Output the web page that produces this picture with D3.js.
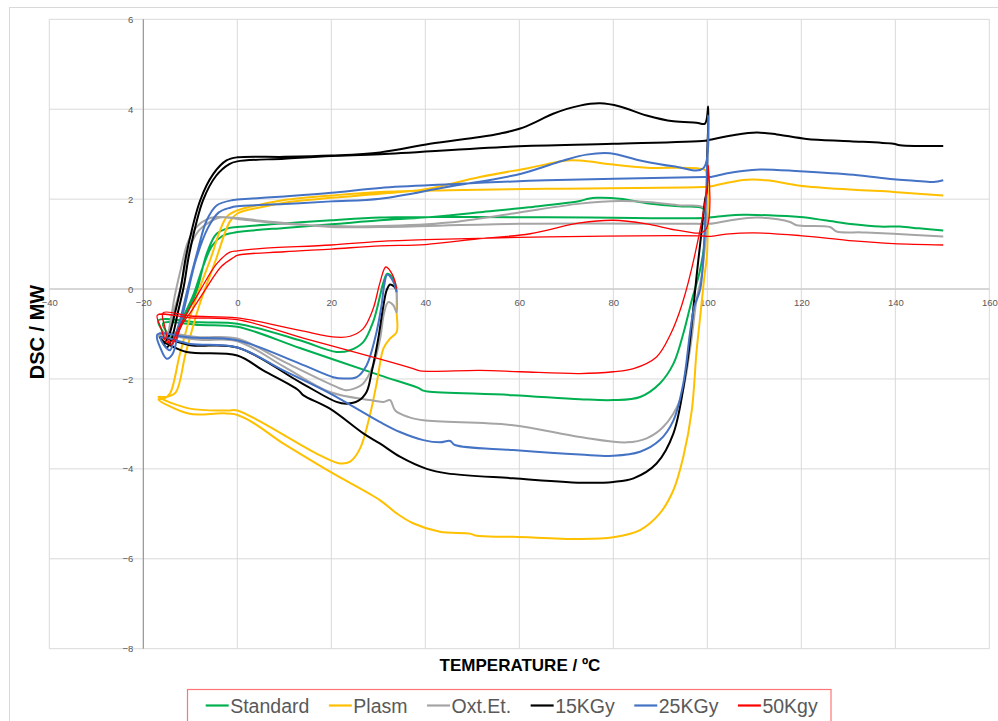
<!DOCTYPE html>
<html>
<head>
<meta charset="utf-8">
<script src="https://cdn.jsdelivr.net/npm/d3@7"></script>
<style>
  body { margin: 0; background: #fff; }
  svg { display: block; }
  text { font-family: "Liberation Sans", Arial, sans-serif; }
</style>
</head>
<body>
<svg id="chart" width="998" height="721"></svg>
<script>
// series labels, in drawing order
const seriesNames = ['Standard', 'Plasm', 'Oxt.Et.', '15KGy', '25KGy', '50Kgy'];
const seriesColors = ['#00b050', '#ffc000', '#a5a5a5', '#000000', '#4472c4', '#ff0000'];
const seriesWidths = [2, 2, 2, 2, 2, 1.3];

const xTicks = [-40, -20, 0, 20, 40, 60, 80, 100, 120, 140, 160];
const yTicks = [-8, -6, -4, -2, 0, 2, 4, 6];

// [temperature ºC, DSC mW] - cooling 1, heating 1, cooling 2, heating 2
const standardPts = [
  [33.9, 0.01], [33.0, 0.26], [31.9, 0.34], [31.0, 0.12], [30.4, -0.14], [28.9, -0.73], [26.8, -1.18],
  [24.0, -1.36], [21.1, -1.40], [13.3, -1.14], [0, -0.77], [-8, -0.74], [-16.8, -0.70],
  [-15.8, -0.95], [-14.5, -1.12], [-13.3, -1.02], [-11.5, -0.62], [-9.3, -0.12], [-7.3, 0.50], [-5.3, 0.97],
  [-3.2, 1.18], [-1, 1.25], [0, 1.27], [10, 1.36], [20, 1.44], [30.4, 1.53], [40, 1.59], [51.6, 1.71],
  [62, 1.82], [72.9, 1.96], [74.7, 2.01], [76.5, 2.03], [81.4, 2.01], [87.1, 1.91], [94, 1.84], [99.1, 1.79],
  [99.8, 1.55], [99.4, 1.0], [98.3, 0.35], [96.7, -0.25], [94.9, -0.99], [92.8, -1.66], [89.9, -2.10],
  [85.7, -2.40], [80, -2.47], [72.9, -2.45], [58.7, -2.36], [40.5, -2.28], [39.6, -2.26], [38.5, -2.20],
  [30.4, -1.92], [13.3, -1.31], [0, -0.84], [-8, -0.80], [-15.8, -0.76],
  [-15.0, -0.96], [-13.9, -1.08], [-12.8, -0.98], [-11.3, -0.66], [-10.1, -0.40], [-8.6, -0.03], [-6.5, 0.79],
  [-4.4, 1.23], [-1.6, 1.36], [0, 1.38], [10, 1.46], [20, 1.53], [30.4, 1.59], [50, 1.60], [75, 1.59],
  [99.5, 1.58], [100.5, 1.59], [104, 1.63], [107.7, 1.65], [113, 1.64], [119.7, 1.60], [125, 1.53],
  [131.1, 1.44], [136.7, 1.39], [141, 1.39], [145, 1.35], [150.2, 1.30]
];

const plasmPts = [
  [33.9, -0.03], [33.9, -0.5], [33.9, -0.96], [32.5, -1.10], [31.1, -1.32], [29.7, -2.07], [28.2, -2.81],
  [26.1, -3.55], [24, -3.84], [21.9, -3.88], [17.6, -3.70], [0, -2.70], [-2, -2.70], [-10.1, -2.66], [-16.8, -2.40],
  [-15.0, -2.40], [-13.1, -2.30], [-11.0, -1.44], [-8.2, -0.40], [-4.6, 0.64], [-1.6, 1.50], [0, 1.68],
  [5, 1.82], [10, 1.92], [20, 2.03], [30.4, 2.12], [40, 2.22], [51.6, 2.49], [62.3, 2.70], [70.1, 2.86],
  [72.9, 2.86], [80, 2.77], [87.1, 2.70], [99.5, 2.65],
  [99.9, 2.55], [100.1, 1.45], [99.9, 0.71], [99.4, 0.3], [98.9, -0.2], [98.3, -0.8], [97.7, -1.4],
  [96.7, -2.70], [94.9, -3.73], [92.8, -4.47], [89.9, -4.99], [85.7, -5.36], [80, -5.52], [72.9, -5.56],
  [58.7, -5.51], [50.9, -5.49], [49.5, -5.44], [43.1, -5.40], [37.4, -5.21], [33.9, -4.99], [30.4, -4.70],
  [20, -4.08], [10, -3.45], [0, -2.80], [-10.4, -2.77], [-16.8, -2.45],
  [-15.6, -2.44], [-14.3, -2.32], [-12.2, -1.44], [-9.4, -0.40], [-5.8, 0.64], [-2.3, 1.60], [0, 1.75],
  [5, 1.88], [10, 1.98], [20, 2.08], [30.4, 2.16], [45, 2.20], [65.8, 2.23], [99.1, 2.27], [100.5, 2.28],
  [104, 2.36], [108.4, 2.43], [112.6, 2.42], [119.7, 2.30], [131.1, 2.21], [139.6, 2.16], [150.2, 2.08]
];

const oxtPts = [
  [33.9, -0.03], [33.9, -0.52], [33.2, -0.36], [32.1, -0.29], [31.2, -0.55], [30.4, -1.10], [28.9, -1.70],
  [26.8, -2.10], [24.7, -2.22], [23, -2.25], [20.5, -2.15], [10, -1.62], [0, -1.10], [-8, -1.07], [-16.5, -0.98],
  [-15.7, -1.10], [-14.7, -1.02], [-13.5, -0.50], [-12.2, -0.03], [-10.1, 0.93], [-8.2, 1.30], [-6.5, 1.45],
  [-3.7, 1.59], [0, 1.56], [5, 1.50], [10, 1.45], [20, 1.40], [30.4, 1.40], [45, 1.48], [58.7, 1.68],
  [72.9, 1.90], [81.4, 1.96], [88, 1.93], [94.2, 1.86], [99.1, 1.82],
  [99.9, 1.55], [99.5, 0.95], [98.8, 0.30], [97.7, -0.25], [96.3, -1.36], [94.2, -2.47], [90.6, -3.07],
  [87.1, -3.32], [82.9, -3.41], [72.9, -3.29], [58.7, -3.03], [39.6, -2.92], [36.5, -2.85], [33.6, -2.70],
  [32.5, -2.47], [31.1, -2.51], [28.2, -2.47], [19.7, -2.29], [10, -1.73], [0, -1.16], [-8, -1.13], [-16.8, -1.02],
  [-16.0, -1.12], [-15.0, -1.06], [-14.2, -0.70], [-13.3, -0.15], [-12.0, 0.45], [-10.5, 1.05], [-8.5, 1.40],
  [-6.5, 1.55], [-4.5, 1.60], [0, 1.58], [5, 1.52], [10, 1.47], [20, 1.38], [30.4, 1.38], [60.2, 1.45],
  [97.7, 1.45], [100.5, 1.45], [105, 1.53], [110.5, 1.59], [115, 1.55], [117.6, 1.49], [119, 1.42],
  [126.1, 1.38], [127.5, 1.28], [133, 1.26], [139.6, 1.23], [150.2, 1.17]
];

const kgy15Pts = [
  [33.9, -0.03], [33.3, 0.06], [32.5, 0.10], [31.8, -0.02], [31.1, -0.36], [30.0, -1.10], [28.6, -1.84],
  [27.5, -2.29], [25.7, -2.49], [23.3, -2.55], [21.1, -2.51], [13.3, -2.07], [0, -1.30], [-10, -1.25], [-16.4, -1.07],
  [-15.4, -1.18], [-14.6, -1.05], [-13.3, -0.55], [-12.0, 0.05], [-10.8, 0.79], [-7.9, 1.97], [-5.1, 2.56],
  [-2.3, 2.86], [0, 2.93], [10, 2.94], [20, 2.97], [30.4, 3.04], [41, 3.23], [51.6, 3.38], [56, 3.46],
  [60.2, 3.57], [64, 3.74], [67.2, 3.90], [72.9, 4.08], [77.2, 4.13], [81.4, 4.06], [87.1, 3.86], [92.8, 3.73],
  [97.7, 3.70], [99.5, 3.68], [100.2, 4.06],
  [100.0, 3.0], [99.9, 2.19], [99.5, 1.97], [98.8, 1.30], [97.7, 0.27], [96.7, -0.77], [95.6, -1.73],
  [92.8, -3.21], [89.2, -3.88], [84.3, -4.21], [80, -4.29], [74.3, -4.31], [58.7, -4.21], [44.6, -4.10],
  [40.3, -4.0], [34.6, -3.73], [30.4, -3.44], [26.8, -3.21], [19.7, -2.66], [14, -2.36], [13, -2.25],
  [5.5, -1.81], [0, -1.48], [-10.8, -1.40], [-15.7, -1.20],
  [-15.0, -1.30], [-14.0, -1.12], [-12.7, -0.55], [-11.4, 0.05], [-10.2, 0.79], [-7.3, 1.97], [-4.5, 2.52],
  [-1.7, 2.78], [0, 2.84], [10, 2.90], [20, 2.96], [30.4, 3.00], [58.7, 3.17], [80, 3.23], [99.5, 3.30],
  [100.5, 3.32], [105.5, 3.42], [110.5, 3.48], [114.8, 3.44], [121.1, 3.34], [130.4, 3.29], [139.6, 3.23],
  [141, 3.20], [150.2, 3.18]
];

const kgy25Pts = [
  [33.9, -0.07], [33.0, 0.20], [31.9, 0.32], [31.2, 0.05], [30.7, -0.36], [29.3, -1.10], [27.5, -1.70],
  [25.4, -1.96], [22.6, -1.99], [20.4, -1.96], [13.3, -1.66], [0, -1.14], [-10, -1.08], [-17, -1.01],
  [-16.2, -1.35], [-15.0, -1.55], [-13.8, -1.45], [-12.6, -1.0], [-11, -0.3], [-8.8, 0.65], [-6.3, 1.35],
  [-4, 1.70], [-1.5, 1.81], [0, 1.84], [10, 1.89], [20, 1.95], [30.4, 2.01], [44.6, 2.27], [60.2, 2.56],
  [69.4, 2.86], [74.3, 2.99], [79.3, 3.02], [85.7, 2.86], [92.8, 2.73], [99.1, 2.68], [100.2, 3.86],
  [99.9, 2.56], [99.5, 1.45], [98.5, 0.0], [97.2, -0.4], [96.3, -0.99], [94.9, -2.10], [92.8, -2.92],
  [89.9, -3.36], [85.7, -3.62], [80, -3.71], [72.9, -3.68], [58.7, -3.58], [46.3, -3.47], [45.3, -3.38],
  [43.1, -3.41], [39.6, -3.36], [34.6, -3.18], [30.4, -2.96], [19.7, -2.32], [10, -1.82], [0, -1.30],
  [-10, -1.22], [-16.3, -1.08],
  [-15.2, -1.30], [-14.3, -1.36], [-13.4, -1.10], [-12.2, -0.70], [-10.8, -0.10], [-8.6, 0.79], [-6.5, 1.53],
  [-4.4, 1.86], [-0.9, 1.98], [0, 1.99], [10, 2.06], [20, 2.14], [30.4, 2.25], [45, 2.33], [65.8, 2.42],
  [99.5, 2.49], [100.5, 2.49], [104, 2.57], [107, 2.62], [111.2, 2.66], [119.7, 2.62], [131.1, 2.54],
  [139.6, 2.44], [144, 2.41], [148.1, 2.38], [150.2, 2.42]
];

const kgy50Pts = [
  [33.9, 0.01], [33.0, 0.32], [31.6, 0.49], [30.4, 0.16], [28.9, -0.44], [26.8, -0.88], [24, -1.05],
  [21.1, -1.07], [13.3, -0.92], [0, -0.64], [-10, -0.60], [-15.8, -0.53],
  [-15.4, -0.85], [-14.8, -1.12], [-14.3, -1.24], [-13.3, -1.15], [-11.8, -0.80], [-9.5, -0.45],
  [-6.9, -0.03], [-3.4, 0.50], [-0.8, 0.70], [0, 0.75], [10, 0.83], [20, 0.89], [30.4, 0.96], [40, 0.99],
  [51.6, 1.12], [62.3, 1.23], [72.9, 1.47], [80, 1.53], [87.1, 1.45], [94.2, 1.30], [99.5, 1.30], [100.2, 2.75],
  [100.0, 2.30], [97.7, 0.93], [94.6, -0.35], [92.2, -1.0], [89.2, -1.51], [84.3, -1.77], [80, -1.84],
  [72.9, -1.88], [60.2, -1.84], [51.6, -1.81], [38.9, -1.82], [37.4, -1.77], [30.4, -1.56], [15, -1.12],
  [0, -0.68], [-10, -0.64], [-17, -0.58],
  [-16.3, -0.85], [-15.0, -1.18], [-13.8, -1.15], [-12.5, -0.88], [-10.8, -0.55], [-7.9, -0.03], [-4.4, 0.56],
  [-1.55, 0.82], [0, 0.85], [4.8, 0.90], [20, 0.98], [30.4, 1.06], [40, 1.10], [65.8, 1.16], [99.1, 1.18],
  [100.5, 1.17], [104, 1.22], [109.8, 1.25], [119.7, 1.19], [131.1, 1.07], [139.6, 1.01], [150.2, 0.98]
];

const seriesPts = [standardPts, plasmPts, oxtPts, kgy15Pts, kgy25Pts, kgy50Pts];

const svg = d3.select('#chart');

// chart frame
svg.append('rect')
  .attr('x', 9.5).attr('y', 7.5)
  .attr('width', 1000).attr('height', 730)
  .attr('fill', '#fff').attr('stroke', '#d9d9d9');

const x = d3.scaleLinear().domain([-40, 160]).range([49.3, 989.3]);
const y = d3.scaleLinear().domain([-8, 6]).range([648.7, 19.3]);

// grid
const grid = svg.append('g').attr('stroke', '#d9d9d9').attr('stroke-width', 1);
grid.selectAll('line.v').data(xTicks).enter().append('line')
  .attr('x1', d => x(d)).attr('x2', d => x(d))
  .attr('y1', y(6)).attr('y2', y(-8));
grid.selectAll('line.h').data(yTicks).enter().append('line')
  .attr('x1', x(-40)).attr('x2', x(160))
  .attr('y1', d => y(d)).attr('y2', d => y(d));

// axes crossing at x = -20 and y = 0
svg.append('line')
  .attr('x1', x(-40)).attr('x2', x(160))
  .attr('y1', y(0)).attr('y2', y(0))
  .attr('stroke', '#cfcfcf').attr('stroke-width', 1.5);
svg.append('line')
  .attr('x1', x(-20)).attr('x2', x(-20))
  .attr('y1', y(6)).attr('y2', y(-8))
  .attr('stroke', '#8a8a8a').attr('stroke-width', 1);

const xAxis = svg.append('g')
  .attr('transform', `translate(0,${y(0)})`)
  .call(d3.axisBottom(x).tickValues(xTicks).tickSize(0).tickPadding(10).tickFormat(d3.format('d')));
const yAxis = svg.append('g')
  .attr('transform', `translate(${x(-20)},0)`)
  .call(d3.axisLeft(y).tickValues(yTicks).tickSize(0).tickPadding(10).tickFormat(d3.format('d')));
[xAxis, yAxis].forEach(g => {
  g.select('.domain').remove();
  g.selectAll('text')
    .attr('fill', '#595959')
    .style('font-family', '"Liberation Sans", Arial, sans-serif')
    .style('font-size', '9.5px');
});

// curves
const line = d3.line()
  .x(d => x(d[0]))
  .y(d => y(d[1]))
  .curve(d3.curveCatmullRom.alpha(0.5));

svg.append('g').selectAll('path')
  .data(seriesPts).enter().append('path')
  .attr('d', line)
  .attr('fill', 'none')
  .attr('stroke', (d, i) => seriesColors[i])
  .attr('stroke-width', (d, i) => seriesWidths[i])
  .attr('stroke-linejoin', 'round');

// axis titles
svg.append('text')
  .attr('x', 520).attr('y', 671)
  .attr('text-anchor', 'middle')
  .attr('font-weight', 'bold')
  .attr('font-size', 17)
  .attr('fill', '#000')
  .text('TEMPERATURE / ºC');

svg.append('text')
  .attr('transform', 'translate(44,332) rotate(-90)')
  .attr('text-anchor', 'middle')
  .attr('font-weight', 'bold')
  .attr('font-size', 20)
  .attr('fill', '#000')
  .text('DSC / MW');

// legend
svg.append('rect')
  .attr('x', 187.5).attr('y', 689.5)
  .attr('width', 643.5).attr('height', 50)
  .attr('fill', '#fff')
  .attr('stroke', '#ff7575').attr('stroke-width', 1.2);

const legend = svg.append('g');
let lx = 205.7;
seriesNames.forEach((name, i) => {
  legend.append('line')
    .attr('x1', lx).attr('x2', lx + 23)
    .attr('y1', 705.5).attr('y2', 705.5)
    .attr('stroke', seriesColors[i])
    .attr('stroke-width', 2.2);
  const t = legend.append('text')
    .attr('x', lx + 24.5).attr('y', 712.7)
    .attr('font-size', 19.5)
    .attr('fill', '#595959')
    .text(name);
  lx += 24.5 + t.node().getComputedTextLength() + 19.5;
});
</script>
</body>
</html>
